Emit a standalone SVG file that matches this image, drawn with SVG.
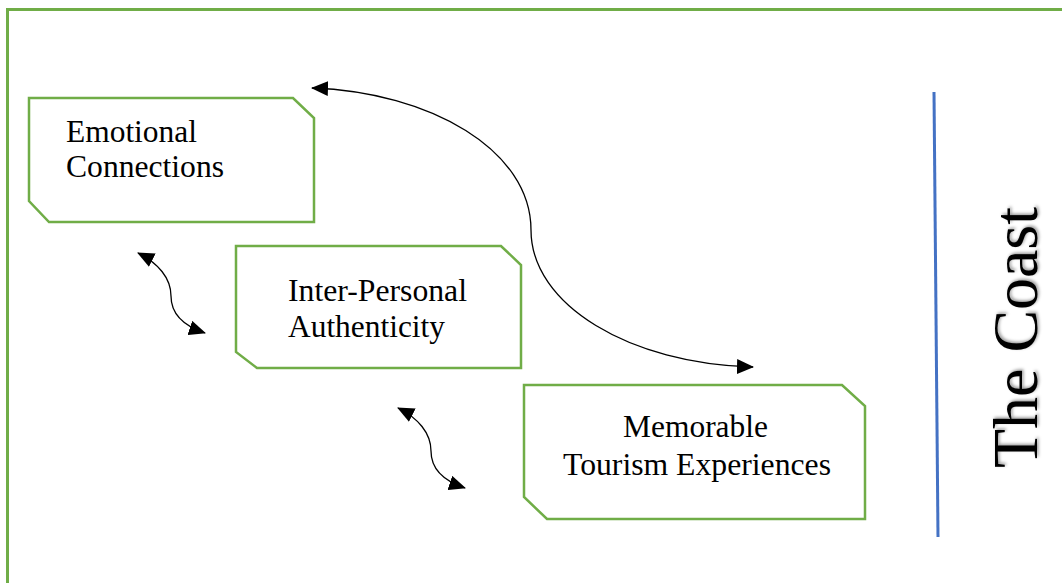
<svg xmlns="http://www.w3.org/2000/svg" width="1062" height="583" viewBox="0 0 1062 583">
  <defs>
    <style>
      .frame { fill: none; stroke: #70AD47; stroke-width: 3; }
      .box { fill: #FFFFFF; stroke: #70AD47; stroke-width: 2.5; stroke-linejoin: miter; }
      .label { font-family: "Liberation Serif", "Times New Roman", serif; font-size: 31px; fill: #000000; }
      .link { fill: none; stroke: #000000; stroke-width: 1.3; }
      .divider { stroke: #4472C4; stroke-width: 3; }
      .coast { font-family: "Liberation Serif", "Times New Roman", serif; font-size: 64px; fill: #000000; }
    </style>
    <marker id="head" viewBox="0 0 17 15" refX="16" refY="7.5" markerUnits="userSpaceOnUse"
            markerWidth="17" markerHeight="15" orient="auto-start-reverse">
      <path d="M0,0 L17,7.5 L0,15 Z" fill="#000000"/>
    </marker>
    <filter id="shadow" x="-10%" y="-20%" width="120%" height="140%">
      <feDropShadow dx="1.5" dy="1.5" stdDeviation="1.5" flood-color="#000000" flood-opacity="0.4"/>
    </filter>
  </defs>

  <rect width="1062" height="583" fill="#FFFFFF"/>

  <!-- outer frame, open to the right and bottom -->
  <rect class="frame" x="7.5" y="9.5" width="1100" height="620"/>

  <!-- nodes -->
  <g id="emotional-connections">
    <path class="box" d="M29,98 L293,98 L314,118 L314,222 L49,222 L29,201 Z"/>
    <text class="label" x="66" y="142" textLength="131" lengthAdjust="spacingAndGlyphs">Emotional</text>
    <text class="label" x="66" y="177" textLength="158" lengthAdjust="spacingAndGlyphs">Connections</text>
  </g>

  <g id="inter-personal-authenticity">
    <path class="box" d="M236,246 L501,246 L521,265 L521,368 L257,368 L236,352 Z"/>
    <text class="label" x="288" y="301" textLength="179" lengthAdjust="spacingAndGlyphs">Inter-Personal</text>
    <text class="label" x="288" y="337" textLength="157" lengthAdjust="spacingAndGlyphs">Authenticity</text>
  </g>

  <g id="memorable-tourism-experiences">
    <path class="box" d="M524,385 L842,385 L865,406 L865,519 L547,519 L524,497 Z"/>
    <text class="label" x="623" y="437" textLength="145" lengthAdjust="spacingAndGlyphs">Memorable</text>
    <text class="label" x="563" y="475" textLength="268" lengthAdjust="spacingAndGlyphs">Tourism Experiences</text>
  </g>

  <g id="the-coast">
    <line class="divider" x1="934" y1="92" x2="938" y2="537"/>
    <text class="coast" transform="translate(1037,468) rotate(-90)" x="0" y="0"
          textLength="261" lengthAdjust="spacingAndGlyphs" filter="url(#shadow)">The Coast</text>
  </g>

  <!-- connectors -->
  <g id="connectors">
    <path class="link" marker-start="url(#head)" marker-end="url(#head)"
          d="M312,88 C430,92 531,150 531,230 C531,305 630,364 753,367"/>
    <path class="link" marker-start="url(#head)" marker-end="url(#head)"
          d="M138,253 C158,263 171,278 171,296 C171,314 184,326 205,333"/>
    <path class="link" marker-start="url(#head)" marker-end="url(#head)"
          d="M398,408 C418,418 431,433 431,451 C431,469 444,481 465,488"/>
  </g>
</svg>
